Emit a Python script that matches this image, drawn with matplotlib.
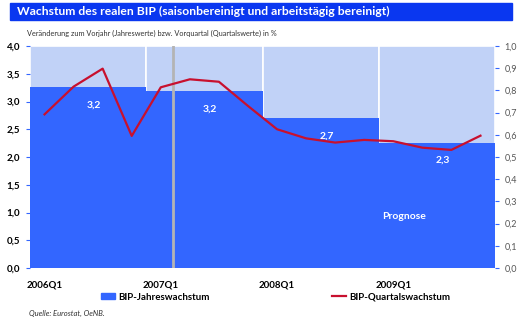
import numpy as np
import matplotlib.pyplot as plt
from matplotlib.patches import Patch, Rectangle
from matplotlib.lines import Line2D

# --- data ---
jahre = ["2006", "2007", "2008", "2009"]
jahreswachstum = [3.26, 3.19, 2.70, 2.26]
jahres_labels = ["3,2", "3,2", "2,7", "2,3"]

quartale = ["2006Q1", "2006Q2", "2006Q3", "2006Q4",
            "2007Q1", "2007Q2", "2007Q3", "2007Q4",
            "2008Q1", "2008Q2", "2008Q3", "2008Q4",
            "2009Q1", "2009Q2", "2009Q3", "2009Q4"]
quartalswachstum = [0.692, 0.817, 0.898, 0.595,
                    0.814, 0.850, 0.839, 0.730,
                    0.625, 0.584, 0.565, 0.577,
                    0.571, 0.542, 0.532, 0.596]
xtick_labels = ["2006Q1", "2007Q1", "2008Q1", "2009Q1"]

left_ticks = np.arange(0, 4.01, 0.5)
right_ticks = np.arange(0, 1.01, 0.1)

# colours
BLAU_TITEL = "#0a37f0"
BLAU_BAR = "#3366ff"
BLAU_HELL = "#c1d2f7"
ROT = "#c8102e"

plt.rcParams['font.family'] = ["Lato", "DejaVu Sans"]

fig = plt.figure(figsize=(5.25, 3.26), dpi=100)
ax = fig.add_axes([30/525, 1-268/326, 465/525, 222/326])

# title band
fig.patches.append(Rectangle((10/525, 1-20/326), 502/525, 17/326,
                             transform=fig.transFigure, color=BLAU_TITEL, zorder=0))
fig.text(17/525, 1-11.5/326,
         "Wachstum des realen BIP (saisonbereinigt und arbeitstägig bereinigt)",
         color="white", fontsize=8.7, fontweight="bold", va="center", ha="left")
fig.text(27/525, 1-33/326,
         "Veränderung zum Vorjahr (Jahreswerte) bzw. Vorquartal (Quartalswerte) in %",
         color="#333333", fontsize=5.3, va="center", ha="left")

n_q = len(quartale)
x_q = np.arange(n_q) + 0.5
x_j = np.arange(len(jahre)) * 4 + 2

# light background per year, then annual bars
ax.bar(x_j, [4.0] * len(jahre), width=4, color=BLAU_HELL, edgecolor="white",
       linewidth=1.2, zorder=1)
ax.bar(x_j, jahreswachstum, width=4, color=BLAU_BAR, linewidth=0, zorder=2)
ax.axvline(4.92, color="#b4b4b4", linewidth=2, zorder=3)

for xj, v, lab in zip(x_j, jahreswachstum, jahres_labels):
    ax.text(xj + 0.2, v - 0.32, lab, color="white", fontsize=7.5,
            fontweight="bold", ha="center", va="center", zorder=5)
ax.text(12.87, 0.92, "Prognose", color="white", fontsize=7.5,
        fontweight="bold", ha="center", va="center", zorder=5)

ax.set_xlim(0, n_q)
ax.set_ylim(0, 4.0)
ax.set_yticks(left_ticks)
ax.set_yticklabels([f"{t:.1f}".replace(".", ",") for t in left_ticks],
                   fontsize=7, fontweight="bold")
ax.set_xticks([x_q[quartale.index(q)] for q in xtick_labels])
ax.set_xticklabels(xtick_labels, fontsize=7, fontweight="bold")
ax.tick_params(axis="x", length=0, pad=9)
ax.tick_params(axis="y", length=3, color=BLAU_BAR, pad=4)
for s in ax.spines.values():
    s.set_visible(False)

ax2 = ax.twinx()
ax2.plot(x_q, quartalswachstum, color=ROT, linewidth=1.6, zorder=4)
ax2.set_ylim(0, 1.0)
ax2.set_yticks(right_ticks)
ax2.set_yticklabels([f"{t:.1f}".replace(".", ",") for t in right_ticks],
                    fontsize=6.5, color="#555555")
ax2.tick_params(axis="y", length=3, color=BLAU_BAR, pad=4)
for s in ax2.spines.values():
    s.set_visible(False)

# legends
fig.legend(handles=[Patch(color=BLAU_BAR, label="BIP-Jahreswachstum")],
           loc="center left", bbox_to_anchor=(92/525, 1-297/326), frameon=False,
           handlelength=1.5, handleheight=0.5, handletextpad=0.3,
           prop={"weight": "bold", "size": 7})
fig.legend(handles=[Line2D([], [], color=ROT, linewidth=1.6, label="BIP-Quartalswachstum")],
           loc="center left", bbox_to_anchor=(323/525, 1-297/326), frameon=False,
           handlelength=1.5, handletextpad=0.3, prop={"weight": "bold", "size": 7})

fig.text(29/525, 1-313/326, "Quelle: Eurostat, OeNB.", fontsize=5.5,
         style="italic", color="#333333", va="center", ha="left")

fig.savefig("out.png", dpi=100)
